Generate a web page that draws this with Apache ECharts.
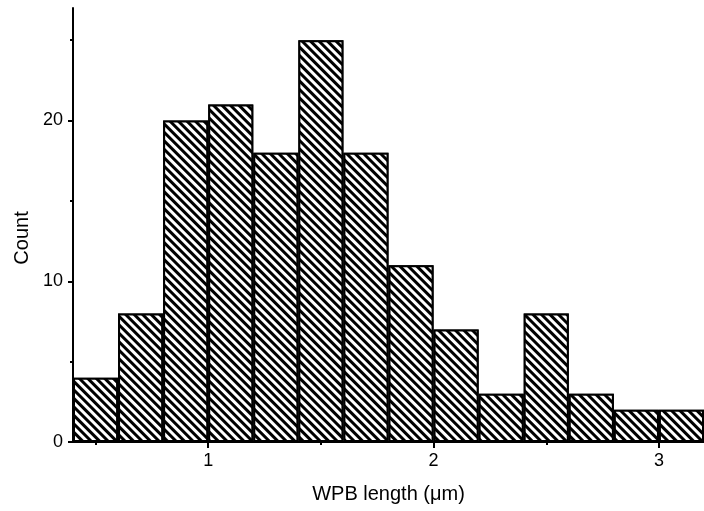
<!DOCTYPE html>
<html>
<head>
<meta charset="utf-8">
<script src="https://cdn.jsdelivr.net/npm/echarts@6/dist/echarts.min.js"></script>
<style>
  html, body { margin: 0; padding: 0; background: #fff; }
  #chart { width: 704px; height: 511px; }
</style>
</head>
<body>
<div id="chart"></div>
<script>
// histogram bins (0.2 wide, starting at 0.4)
var binLabels = ['0.4-0.6', '0.6-0.8', '0.8-1.0', '1.0-1.2', '1.2-1.4', '1.4-1.6', '1.6-1.8',
                 '1.8-2.0', '2.0-2.2', '2.2-2.4', '2.4-2.6', '2.6-2.8', '2.8-3.0', '3.0-3.2'];
var counts = [4, 8, 20, 21, 18, 25, 18, 11, 7, 3, 8, 3, 2, 2];

var xMajorTicks = [1, 2, 3];
var xMinorTicks = [0.5, 1.5, 2.5];
var yMajorTicks = [0, 10, 20];
var yMinorTicks = [5, 15, 25];

var font = '"Liberation Sans", Arial, sans-serif';

var chart = echarts.init(document.getElementById('chart'));

var option = {
    animation: false,
    backgroundColor: '#fff',
    grid: { left: 73, right: -5, top: 8, bottom: 69 },
    xAxis: [
        {
            type: 'value', min: 0.4, max: 3.2, position: 'bottom',
            splitLine: { show: false },
            axisLine: { lineStyle: { color: '#000', width: 2 } },
            axisTick: { customValues: xMajorTicks, length: 6, lineStyle: { color: '#000', width: 2 } },
            axisLabel: { customValues: xMajorTicks, color: '#000', fontSize: 18, fontFamily: font, margin: 10 },
            name: 'WPB length (\u03bcm)', nameLocation: 'middle', nameGap: 42,
            nameTextStyle: { color: '#000', fontSize: 20, fontFamily: font }
        },
        {
            type: 'value', min: 0.4, max: 3.2, position: 'bottom',
            splitLine: { show: false },
            axisLine: { show: false },
            axisTick: { customValues: xMinorTicks, length: 3, lineStyle: { color: '#000', width: 2 } },
            axisLabel: { show: false }
        },
        {
            type: 'category', data: binLabels, show: false
        }
    ],
    yAxis: [
        {
            type: 'value', min: 0, max: 27,
            splitLine: { show: false },
            axisLine: { show: true, lineStyle: { color: '#000', width: 2 } },
            axisTick: { show: true, customValues: yMajorTicks, length: 5, lineStyle: { color: '#000', width: 2 } },
            axisLabel: { customValues: yMajorTicks, color: '#000', fontSize: 18, fontFamily: font, margin: 10 },
            name: 'Count', nameLocation: 'middle', nameGap: 41,
            nameTextStyle: { color: '#000', fontSize: 20, fontFamily: font, padding: [0, 26, 0, 0] }
        },
        {
            type: 'value', min: 0, max: 27, position: 'left',
            splitLine: { show: false },
            axisLine: { show: false },
            axisTick: { show: true, customValues: yMinorTicks, length: 3, lineStyle: { color: '#000', width: 2 } },
            axisLabel: { show: false }
        }
    ],
    series: [
        {
            type: 'bar',
            xAxisIndex: 2,
            yAxisIndex: 0,
            data: counts,
            barCategoryGap: '0%',
            itemStyle: {
                color: '#fff',
                borderColor: '#000',
                borderWidth: 2,
                decal: {
                    symbol: 'rect',
                    symbolSize: 1,
                    dashArrayX: [1, 0],
                    dashArrayY: [3, 3],
                    rotation: Math.PI / 4,
                    color: '#000',
                    backgroundColor: '#fff'
                }
            }
        }
    ]
};

chart.setOption(option);
</script>
</body>
</html>
